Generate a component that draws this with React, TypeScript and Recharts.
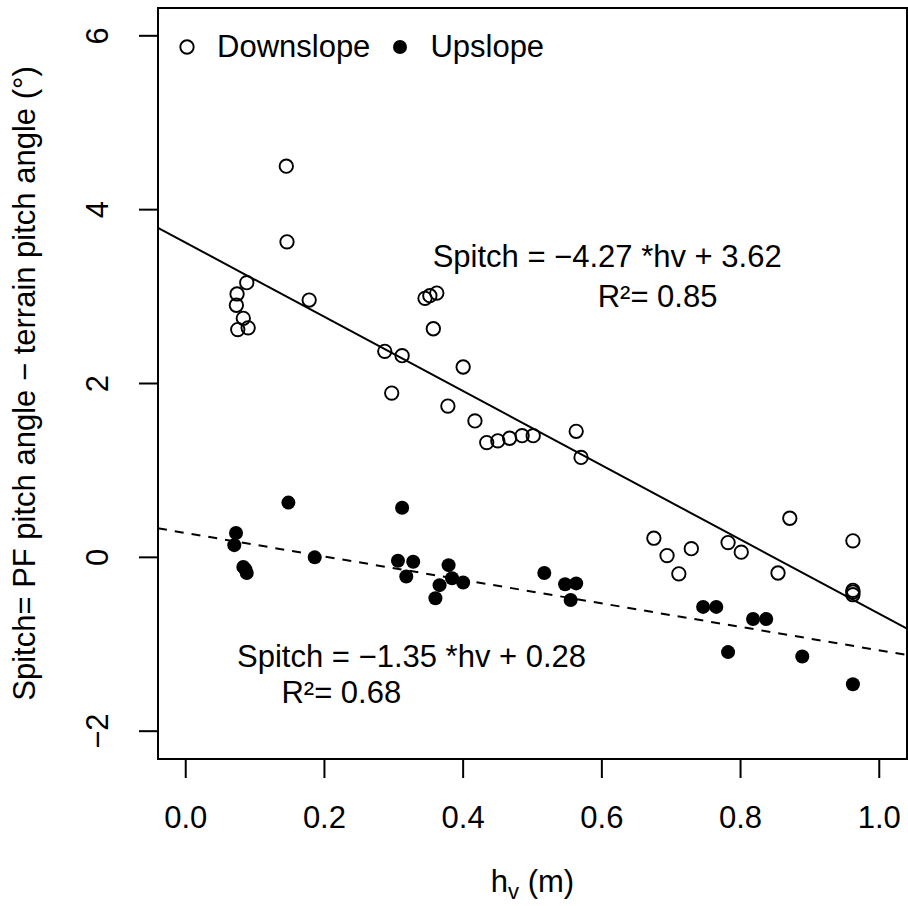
import React from 'react';
import {
  ScatterChart,
  Scatter,
  XAxis,
  YAxis,
  ReferenceLine,
  ReferenceArea,
  ReferenceDot,
  Legend,
} from 'recharts';

const FONT = '"Liberation Sans", Arial, Helvetica, sans-serif';

// ---- data ----
const downHv = [0.145, 0.146, 0.088, 0.074, 0.073, 0.083, 0.075, 0.090, 0.178, 0.345, 0.352, 0.362, 0.357, 0.287, 0.312, 0.297, 0.400, 0.378, 0.417, 0.434, 0.450, 0.467, 0.485, 0.501, 0.563, 0.570, 0.675, 0.694, 0.711, 0.729, 0.782, 0.801, 0.871, 0.854, 0.962, 0.962, 0.962, 0.962];
const downS = [4.50, 3.63, 3.16, 3.03, 2.90, 2.75, 2.62, 2.64, 2.96, 2.98, 3.01, 3.04, 2.63, 2.37, 2.32, 1.89, 2.19, 1.74, 1.57, 1.32, 1.34, 1.37, 1.40, 1.40, 1.45, 1.15, 0.22, 0.02, -0.19, 0.10, 0.17, 0.06, 0.45, -0.18, 0.19, -0.38, -0.40, -0.43];

const upHv = [0.0725, 0.070, 0.083, 0.086, 0.088, 0.148, 0.186, 0.312, 0.306, 0.328, 0.318, 0.379, 0.384, 0.400, 0.366, 0.360, 0.517, 0.547, 0.563, 0.555, 0.746, 0.765, 0.818, 0.837, 0.782, 0.889, 0.962];
const upS = [0.28, 0.14, -0.11, -0.14, -0.18, 0.63, 0.00, 0.57, -0.04, -0.05, -0.22, -0.09, -0.24, -0.29, -0.32, -0.47, -0.18, -0.31, -0.30, -0.49, -0.57, -0.57, -0.71, -0.71, -1.09, -1.14, -1.46];

const xTicks = [0, 0.2, 0.4, 0.6, 0.8, 1.0];
const yTicks = [-2, 0, 2, 4, 6];
const xDomain: [number, number] = [-0.04, 1.04];
const yDomain: [number, number] = [-2.32, 6.32];

const downFit = { slope: -4.27, intercept: 3.62, r2: 0.85 };
const upFit = { slope: -1.35, intercept: 0.28, r2: 0.68 };

const seriesNames = ['Downslope', 'Upslope'];

// ---- derived tables ----
const downData = downHv.map((hv, i) => ({ hv, s: downS[i] }));
const upData = upHv.map((hv, i) => ({ hv, s: upS[i] }));
const fitSegment = (f: { slope: number; intercept: number }) =>
  xDomain.map((x) => ({ x, y: f.intercept + f.slope * x }));

const fmtNum = (v: number, d: number) => {
  const s = Math.abs(v).toFixed(d);
  return v < 0 ? '\u2212' + s : s;
};

const annotations = [
  { x: 0.356, y: 3.34, text: `Spitch = ${fmtNum(downFit.slope, 2)} *hv + ${fmtNum(downFit.intercept, 2)}` },
  { x: 0.594, y: 2.88, text: `R\u00b2= ${downFit.r2.toFixed(2)}` },
  { x: 0.074, y: -1.26, text: `Spitch = ${fmtNum(upFit.slope, 2)} *hv + ${fmtNum(upFit.intercept, 2)}` },
  { x: 0.138, y: -1.67, text: `R\u00b2= ${upFit.r2.toFixed(2)}` },
];

const FS = 31;

const OpenDot = (p: any) => (
  <circle cx={p.cx} cy={p.cy} r={6.7} fill="none" stroke="#000" strokeWidth={1.9} />
);
const FilledDot = (p: any) => <circle cx={p.cx} cy={p.cy} r={7} fill="#000" />;

const XTick = (p: any) => (
  <text x={p.x} y={p.y + 48} textAnchor="middle" fontSize={FS} fontFamily={FONT} fill="#000">
    {fmtNum(p.payload.value, 1)}
  </text>
);

const YTick = (p: any) => {
  const bx = p.x - 29;
  return (
    <text
      x={bx}
      y={p.y}
      transform={`rotate(-90 ${bx} ${p.y})`}
      textAnchor="middle"
      fontSize={FS}
      fontFamily={FONT}
      fill="#000"
    >
      {p.payload.value < 0 ? '\u2212' + Math.abs(p.payload.value) : String(p.payload.value)}
    </text>
  );
};

const XLabel = (p: any) => {
  const vb = p.viewBox || { x: 158, y: 759, width: 749, height: 147 };
  const cx = vb.x + vb.width / 2;
  return (
    <text x={cx} y={vb.y + 133} textAnchor="middle" fontSize={FS} fontFamily={FONT} fill="#000">
      <tspan>h</tspan>
      <tspan fontSize={22} dy={7}>v</tspan>
      <tspan dy={-7}> (m)</tspan>
    </text>
  );
};

const YLabel = (p: any) => {
  const vb = p.viewBox || { x: 0, y: 8, width: 158, height: 751 };
  const bx = vb.x + 35;
  const cy = vb.y + vb.height / 2;
  return (
    <text
      x={bx}
      y={cy}
      transform={`rotate(-90 ${bx} ${cy})`}
      textAnchor="middle"
      fontSize={FS}
      fontFamily={FONT}
      fill="#000"
    >
      {'Spitch= PF pitch angle \u2212 terrain pitch angle (\u00b0)'}
    </text>
  );
};

const renderLegend = () => (
  <div style={{ display: 'flex', alignItems: 'center', fontFamily: FONT, fontSize: FS, color: '#000', whiteSpace: 'nowrap' }}>
    {seriesNames.map((name, i) => (
      <div key={name} style={{ display: 'flex', alignItems: 'center', marginRight: i === 0 ? 22 : 0 }}>
        <svg width={16} height={16} style={{ marginRight: 22, display: 'block' }}>
          {i === 0 ? (
            <circle cx={8} cy={8} r={6.7} fill="none" stroke="#000" strokeWidth={1.9} />
          ) : (
            <circle cx={8} cy={8} r={7} fill="#000" />
          )}
        </svg>
        <span style={{ lineHeight: 'normal' }}>{name}</span>
      </div>
    ))}
  </div>
);

export default function App() {
  return (
    <div style={{ position: 'absolute', left: 0, top: 0, width: 908, height: 906, background: '#fff' }}>
      <ScatterChart width={908} height={906} margin={{ top: 8, right: 1, bottom: 0, left: 0 }}>
        <XAxis
          type="number"
          dataKey="hv"
          domain={xDomain}
          ticks={xTicks}
          allowDataOverflow
          height={147}
          axisLine={false}
          tickLine={{ stroke: '#000', strokeWidth: 2 }}
          tickSize={19}
          tick={<XTick />}
          label={{ content: XLabel }}
        />
        <YAxis
          type="number"
          dataKey="s"
          domain={yDomain}
          ticks={yTicks}
          allowDataOverflow
          width={158}
          axisLine={false}
          tickLine={{ stroke: '#000', strokeWidth: 2 }}
          tickSize={19}
          tick={<YTick />}
          label={{ content: YLabel }}
        />
        <ReferenceArea
          x1={xDomain[0]}
          x2={xDomain[1]}
          y1={yDomain[0]}
          y2={yDomain[1]}
          fill="none"
          fillOpacity={0}
          stroke="#000"
          strokeWidth={2}
          ifOverflow="visible"
        />
        <ReferenceLine segment={fitSegment(downFit)} stroke="#000" strokeWidth={2} ifOverflow="visible" />
        <ReferenceLine
          segment={fitSegment(upFit)}
          stroke="#000"
          strokeWidth={2}
          strokeDasharray="9 8"
          ifOverflow="visible"
        />
        <Scatter name={seriesNames[0]} data={downData} shape={OpenDot} isAnimationActive={false} />
        <Scatter name={seriesNames[1]} data={upData} shape={FilledDot} isAnimationActive={false} />
        {annotations.map((a, i) => (
          <ReferenceDot
            key={i}
            x={a.x}
            y={a.y}
            r={0}
            ifOverflow="visible"
            shape={(p: any) => (
              <text x={p.cx} y={p.cy} fontSize={FS} fontFamily={FONT} fill="#000">
                {a.text}
              </text>
            )}
          />
        ))}
        <Legend
          layout="horizontal"
          verticalAlign="middle"
          align="center"
          wrapperStyle={{ top: 29, left: 179, width: 400, height: 36 }}
          content={renderLegend}
        />
      </ScatterChart>
    </div>
  );
}
